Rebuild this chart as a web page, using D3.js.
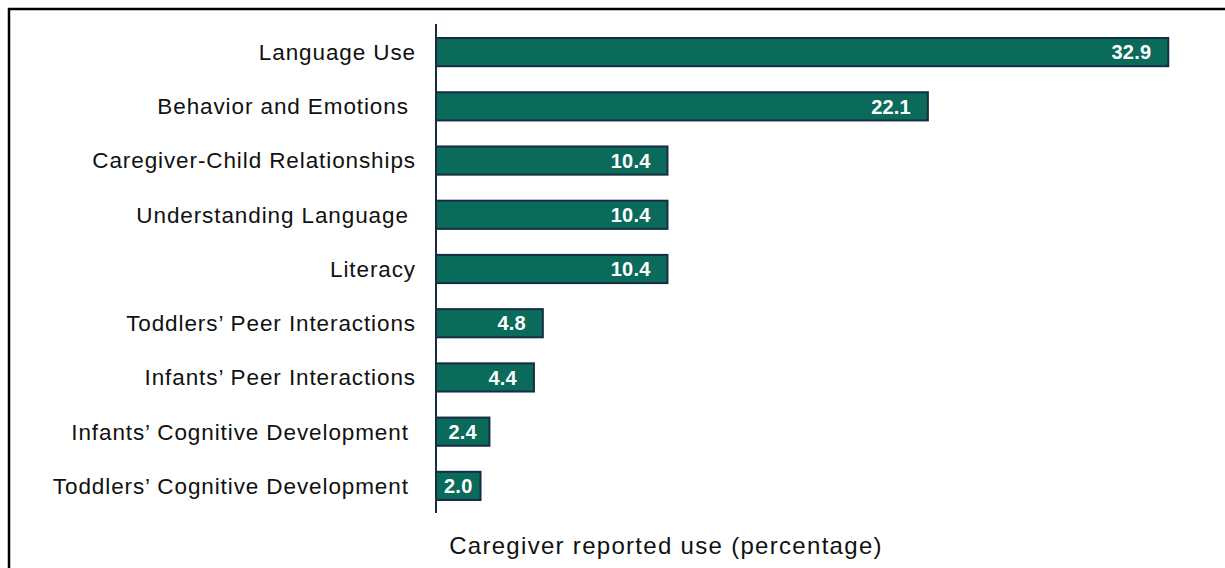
<!DOCTYPE html>
<html>
<head>
<meta charset="utf-8">
<script src="https://cdn.jsdelivr.net/npm/d3@7"></script>
<style>
  html, body { margin: 0; padding: 0; background: #fff; }
  svg { display: block; }
  text { font-family: "Liberation Sans", Arial, sans-serif; white-space: pre; }
</style>
</head>
<body>
<svg id="chart"></svg>
<script>
const W = 1225, H = 568;
const BAR_FILL = '#0b6b5b';
const BAR_STROKE = '#172d45';

const categories = [
    'Language Use',
    'Behavior and Emotions ',
    'Caregiver-Child Relationships',
    'Understanding Language ',
    'Literacy',
    'Toddlers\u2019 Peer Interactions',
    'Infants\u2019 Peer Interactions',
    'Infants\u2019 Cognitive Development ',
    'Toddlers\u2019 Cognitive Development '
];
const values = [32.9, 22.1, 10.4, 10.4, 10.4, 4.8, 4.4, 2.4, 2.0];
const axisTitle = 'Caregiver reported use (percentage)';

const data = categories.map((c, i) => ({ name: c, value: values[i] }));

const svg = d3.select('#chart')
    .attr('width', W)
    .attr('height', H);

// frame round the picture
svg.append('rect')
    .attr('x', 9).attr('y', 9)
    .attr('width', W + 10).attr('height', H + 10)
    .attr('fill', 'none')
    .attr('stroke', '#000')
    .attr('stroke-width', 2.5);

const x = d3.scaleLinear()
    .domain([0, 35])
    .range([436, 1215]);

const y = d3.scaleBand()
    .domain(categories)
    .range([25, 513])
    .paddingInner(0.48)
    .paddingOuter(0.24);

// bars
svg.append('g')
    .selectAll('rect')
    .data(data)
    .enter().append('rect')
    .attr('x', x(0))
    .attr('y', d => y(d.name))
    .attr('width', d => x(d.value) - x(0))
    .attr('height', y.bandwidth())
    .attr('fill', BAR_FILL)
    .attr('stroke', BAR_STROKE)
    .attr('stroke-width', 2);

// category axis (line only, labels to the left)
const yAxis = svg.append('g')
    .attr('transform', `translate(${x(0)},0)`)
    .call(d3.axisLeft(y).tickSize(0).tickPadding(20));
yAxis.select('.domain')
    .attr('d', `M0,${y.range()[0] - 1}V${y.range()[1]}`)
    .attr('stroke', BAR_STROKE)
    .attr('stroke-width', 2);
yAxis.selectAll('text')
    .attr('font-family', '"Liberation Sans", Arial, sans-serif')
    .attr('font-size', 22.5)
    .attr('letter-spacing', 0.9)
    .attr('fill', '#111')
    .attr('dy', '0.35em');

// value labels
const PAD = 17;
const labels = svg.append('g')
    .selectAll('text')
    .data(data)
    .enter().append('text')
    .text(d => d.value.toFixed(1))
    .attr('y', d => y(d.name) + y.bandwidth() / 2)
    .attr('dy', '0.36em')
    .attr('font-size', 20)
    .attr('letter-spacing', 0.2)
    .attr('font-weight', 'bold')
    .attr('fill', '#fff');

labels.each(function (d) {
    const tw = this.getComputedTextLength();
    const w = x(d.value) - x(0);
    const t = d3.select(this);
    if (w < tw + 2 * PAD) {
        t.attr('text-anchor', 'middle').attr('x', x(0) + w / 2);
    } else {
        t.attr('text-anchor', 'end').attr('x', x(d.value) - PAD);
    }
});

// axis title
svg.append('text')
    .attr('x', 666)
    .attr('y', 546)
    .attr('dy', '0.35em')
    .attr('text-anchor', 'middle')
    .attr('font-size', 24)
    .attr('letter-spacing', 1.3)
    .attr('fill', '#111')
    .text(axisTitle);
</script>
</body>
</html>
